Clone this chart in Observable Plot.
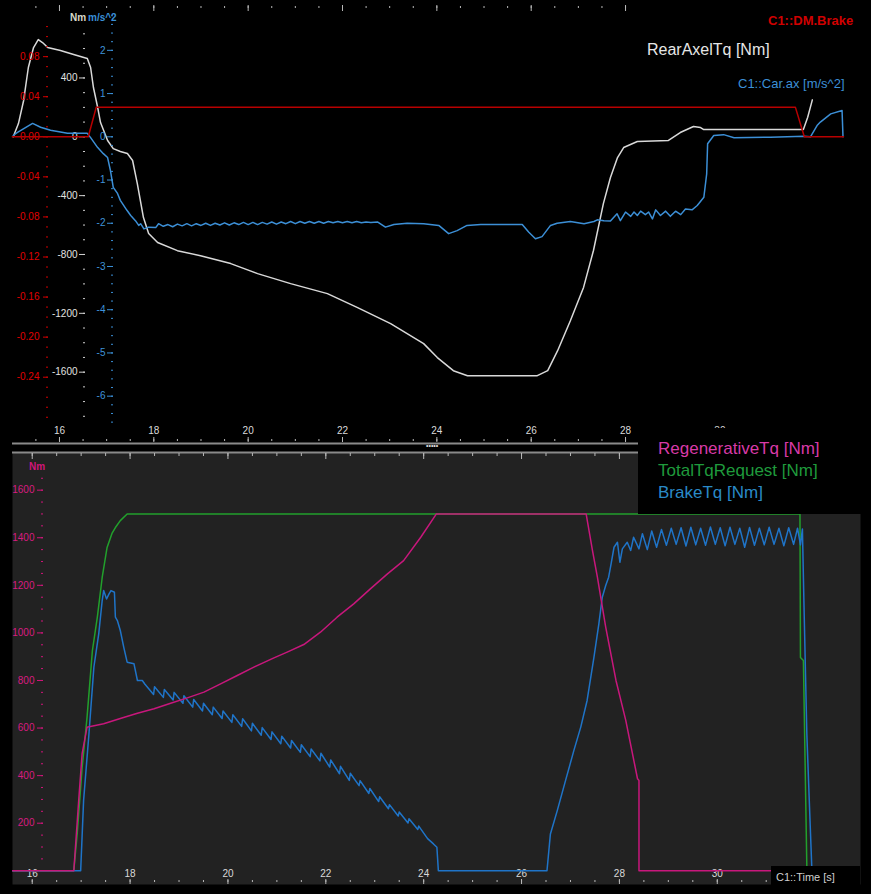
<!DOCTYPE html>
<html><head><meta charset="utf-8">
<script src="https://cdn.jsdelivr.net/npm/d3@7"></script>
<script src="https://cdn.jsdelivr.net/npm/@observablehq/plot@0.6"></script>
<style>
html,body{margin:0;padding:0;background:#000;}
#root{position:relative;width:871px;height:894px;background:#000;overflow:hidden;font-family:"Liberation Sans",Arial,sans-serif;}
#root svg{position:absolute;left:0;}
.lbl{position:absolute;white-space:nowrap;line-height:1;}
.box{position:absolute;background:#000;}
</style></head><body><div id="root"></div>
<script>
// ---------- Top panel series: [time s, value] ----------
const dmBrake = [[15.00,0],[16.61,0],[16.78,0.0296],[31.60,0.0296],[31.79,0],[32.62,0]];

const rearAxelTq = [[15.02,0],[15.13,90],[15.24,247],[15.34,471],[15.45,607],[15.55,661],[15.64,641],[15.75,607],
  [16.02,587],[16.30,559],[16.59,532],[16.66,471],[16.72,335],[16.81,199],[16.87,97],[17.02,-25],[17.14,-80],
  [17.29,-100],[17.44,-114],[17.55,-161],[17.65,-318],[17.78,-549],[17.89,-657],[18.08,-719],[18.50,-774],
  [18.99,-808],[19.63,-862],[20.20,-930],[20.90,-998],[21.68,-1066],[22.32,-1161],[23.02,-1270],[23.72,-1406],
  [24.01,-1501],[24.35,-1590],[24.65,-1624],[26.13,-1624],[26.35,-1590],[26.56,-1454],[26.83,-1250],[27.11,-1024],
  [27.32,-773],[27.53,-454],[27.68,-277],[27.83,-141],[27.96,-73],[28.25,-32],[28.91,-25],[29.16,29],[29.44,70],
  [29.59,63],[29.65,50],[31.77,50],[31.86,131],[31.96,251]];

const carAx = [[15.02,0.03],[15.11,0.10],[15.43,0.31],[15.60,0.22],[15.81,0.15],[16.17,0.08],[16.59,0.08],[16.66,-0.02],
  [16.81,-0.25],[16.93,-0.39],[17.02,-0.48],[17.08,-0.78],[17.14,-1.17],[17.23,-1.31],[17.29,-1.47],[17.43,-1.70],
  [17.51,-1.82],[17.61,-1.94],[17.68,-2.05],[17.72,-2.01],[17.79,-2.13],[17.89,-2.09],[18.04,-2.10],
  [18.10,-2.01],[18.20,-2.07],[18.30,-2.03],[18.40,-2.08],[18.50,-2.02],[18.60,-2.06],[18.70,-2.01],[18.80,-2.06],
  [18.90,-2.01],[19.00,-2.05],[19.10,-2.00],[19.20,-2.05],[19.30,-2.00],[19.40,-2.04],[19.50,-1.99],[19.60,-2.04],
  [19.70,-1.99],[19.80,-2.03],[19.90,-1.98],[20.00,-2.03],[20.10,-1.98],[20.20,-2.03],[20.30,-1.98],[20.40,-2.02],
  [20.50,-1.97],[20.60,-2.02],[20.70,-1.97],[20.80,-2.01],[20.90,-1.96],[21.00,-2.01],[21.10,-1.96],[21.20,-2.00],
  [21.30,-1.96],[21.40,-2.00],[21.50,-1.96],[21.60,-2.00],[21.70,-1.96],[21.80,-1.99],[21.90,-1.96],[22.00,-1.99],
  [22.10,-1.96],[22.20,-1.99],[22.30,-1.96],[22.40,-1.99],[22.50,-1.97],[22.60,-1.98],[22.74,-1.97],
  [22.91,-2.09],[23.09,-2.03],[23.37,-2.00],[23.72,-2.01],[24.04,-2.05],[24.25,-2.24],[24.43,-2.17],[24.64,-2.05],
  [24.93,-2.03],[25.81,-2.03],[25.95,-2.21],[26.09,-2.36],[26.23,-2.31],[26.41,-2.05],[26.55,-2.00],[26.83,-1.96],
  [27.12,-2.01],[27.33,-1.96],[27.40,-1.92],[27.54,-1.94],[27.68,-1.95],[27.82,-1.78],[27.89,-1.94],[28.00,-1.74],
  [28.11,-1.84],[28.18,-1.74],[28.25,-1.82],[28.32,-1.72],[28.42,-1.80],[28.49,-1.74],[28.57,-1.90],[28.64,-1.69],
  [28.74,-1.82],[28.85,-1.72],[28.95,-1.84],[29.06,-1.72],[29.17,-1.80],[29.27,-1.67],[29.41,-1.69],[29.52,-1.59],
  [29.66,-1.40],[29.72,-0.86],[29.74,-0.16],[29.87,0.03],[30.08,0.05],[30.30,-0.02],[31.07,-0.01],[31.78,0.01],
  [31.92,0],[32.06,0.26],[32.13,0.34],[32.35,0.53],[32.59,0.61],[32.61,0]];

// ---------- Bottom panel series: [time s, Nm] ----------
const totalTqRequest = [[15.60,0],[16.85,0],[16.92,157],[17.02,434],[17.12,644],[17.23,926],[17.33,1065],[17.43,1233],
  [17.53,1359],[17.63,1418],[17.70,1443],[17.80,1472],[17.94,1500],[31.69,1500],[31.70,897],[31.76,884],[31.83,22],[31.84,0]];

const regenerativeTq = [[15.60,0],[16.85,0],[16.95,296],[17.02,493],[17.12,603],[17.19,607],[17.46,618],[17.80,640],
  [18.15,662],[18.49,681],[18.83,704],[19.17,727],[19.51,751],[19.85,786],[20.19,821],[20.53,856],[20.94,895],
  [21.21,919],[21.55,951],[21.89,1003],[22.23,1066],[22.57,1122],[22.91,1185],[23.26,1248],[23.59,1304],[23.94,1402],
  [24.26,1500],[27.32,1500],[27.45,1346],[27.55,1234],[27.72,1024],[27.93,800],[28.13,632],[28.37,387],[28.40,380],
  [28.40,0],[31.84,0]];

const brakeTq = [[15.60,0],[16.99,0],[17.05,296],[17.16,577],[17.26,856],[17.36,997],[17.43,1136],[17.46,1178],
  [17.52,1143],[17.57,1164],[17.61,1178],[17.68,1171],[17.70,1066],[17.74,1052],[17.80,1010],[17.87,940],[17.94,877],
  [18.08,870],[18.15,800],[18.25,800],
  [18.30,785],[18.48,741],[18.50,774],[18.68,729],[18.70,762],[18.88,718],[18.90,750],[19.08,704],[19.10,736],
  [19.28,688],[19.30,720],[19.48,672],[19.50,704],[19.68,656],[19.70,688],[19.88,640],[19.90,672],[20.08,624],
  [20.10,656],[20.28,607],[20.30,639],[20.48,588],[20.50,620],[20.68,570],[20.70,602],[20.88,552],[20.90,584],
  [21.08,534],[21.10,566],[21.28,516],[21.30,548],[21.48,498],[21.50,530],[21.68,480],[21.70,512],[21.88,462],
  [21.90,494],[22.08,436],[22.10,466],[22.28,408],[22.30,439],[22.48,380],[22.50,410],[22.68,358],[22.70,379],
  [22.88,325],[22.90,346],[23.08,291],[23.10,311],[23.28,261],[23.30,278],[23.48,230],[23.50,247],[23.68,201],
  [23.70,219],[23.88,174],[23.90,188],[24.08,135],[24.20,113],[24.27,99],[24.30,0],[26.52,0],
  [26.59,155],[26.73,253],[26.90,380],[27.07,506],[27.21,604],[27.34,716],[27.48,898],[27.58,1038],[27.65,1150],
  [27.72,1199],[27.78,1234],[27.83,1290],[27.89,1360],[27.96,1381],[28.01,1297],[28.06,1353],[28.16,1381],
  [28.23,1346],[28.29,1402],[28.40,1353],[28.47,1417],
  [28.57,1350],[28.66,1428],[28.76,1360],[28.86,1435],[28.96,1368],[29.06,1440],[29.16,1372],[29.26,1442],
  [29.36,1365],[29.46,1444],[29.56,1370],[29.66,1440],[29.76,1368],[29.86,1445],[29.96,1372],[30.06,1442],
  [30.16,1366],[30.26,1444],[30.36,1372],[30.46,1440],[30.56,1360],[30.66,1443],[30.76,1368],[30.86,1440],
  [30.96,1370],[31.06,1444],[31.16,1372],[31.26,1440],[31.36,1366],[31.46,1442],[31.56,1372],[31.64,1440],
  [31.70,1370],[31.74,1437],[31.77,1136],[31.83,577],[31.88,296],[31.93,22],[31.94,0]];

// ---------- Tick labels ----------
const timeTicks = [16,18,20,22,24,26,28,30,32];
const timeLabels = [16,18,20,22,24,26,28,30];
const brakeAxisTicks = [0.08,0.04,0,-0.04,-0.08,-0.12,-0.16,-0.20,-0.24];
const nmAxisTicks = [400,0,-400,-800,-1200,-1600];
const axAxisTicks = [2,1,0,-1,-2,-3,-4,-5,-6];
const bottomNmTicks = [200,400,600,800,1000,1200,1400,1600];

// minor tick grids
const topEdgeMinor = d3.range(31, 57).map(i => i / 2);   // 15.5 .. 28
const topEdgeMajor = timeTicks.filter(t => t <= 28);
const topMinor = d3.range(31, 66).map(i => i / 2);
const botMinor = d3.range(32, 66).map(i => i / 2);
const brakeMinor = d3.range(-28, 12).map(i => i / 100);
const nmMinor = d3.range(-19, 8).map(i => i * 100);
const axMinor = d3.range(-33, 15).map(i => i / 5);
const bottomNmMinor = d3.range(1, 34).map(i => i * 50);

const FONT = '"Liberation Sans", Arial, sans-serif';
const W = 871;
const style = {background: "transparent", fontFamily: FONT, fontSize: "10px", color: "#ccc"};
const TOP_X = [15.004, 32.981];
const topBase = {width: W, height: 445, marginLeft: 12, marginRight: 11, marginTop: 3, marginBottom: 2, style};
const X = d => d[0], Y = d => d[1];
const tickGray = "#b8b8b8", labelGray = "#dadada";

const root = document.getElementById("root");
function place(svg, top) { svg.style.top = top + "px"; root.appendChild(svg); }

// Layer 1: RearAxelTq (Nm) + time axes
const NM_DOMAIN = [-2085.0, 906.2];
place(Plot.plot({...topBase, x: {domain: TOP_X}, y: {domain: NM_DOMAIN}, marks: [
  Plot.ruleY([NM_DOMAIN[0]], {stroke: "#8a8a8a", strokeWidth: 2}),
  Plot.axisX(topEdgeMinor, {anchor: "top", tickSize: 2, dy: 4, fill: "none", stroke: tickGray, label: null}),
  Plot.axisX(topEdgeMajor, {anchor: "top", tickSize: 6, dy: 7, fill: "none", stroke: tickGray, label: null}),
  Plot.axisX(topMinor, {anchor: "bottom", tickSize: 2, dy: -4, fill: "none", stroke: tickGray, label: null}),
  Plot.axisX(timeTicks, {anchor: "bottom", tickSize: 5, dy: -6, fill: "none", stroke: tickGray, label: null}),
  Plot.axisX(timeLabels, {anchor: "bottom", tickSize: 0, tickPadding: 0, lineAnchor: "middle", dy: -13,
    fill: labelGray, tickFormat: d => String(d), label: null}),
  Plot.axisY(nmMinor, {anchor: "left", tickSize: 2, dx: 73, fill: "none", stroke: "#d0d0d0", label: null}),
  Plot.axisY(nmAxisTicks, {anchor: "left", tickSize: 6, dx: 73, tickPadding: 2, stroke: "#d0d0d0", fill: "#e2e2e2",
    tickFormat: d => String(d), label: null}),
  Plot.line(rearAxelTq, {x: X, y: Y, stroke: "#d9d9d9", strokeWidth: 1.5})
]}), 0);

// Layer 2: Car.ax (m/s^2)
place(Plot.plot({...topBase, x: {domain: TOP_X, axis: null}, y: {domain: [-7.0946, 3.0835]}, marks: [
  Plot.axisY(axMinor, {anchor: "left", tickSize: 2, dx: 101, fill: "none", stroke: "#3a8fd6", label: null}),
  Plot.axisY(axAxisTicks, {anchor: "left", tickSize: 6, dx: 101, tickPadding: 2, stroke: "#3a8fd6", fill: "#3f93da",
    tickFormat: d => String(d), label: null}),
  Plot.line(carAx, {x: X, y: Y, stroke: "#3c8fd6", strokeWidth: 1.5})
]}), 0);

// Layer 3: DM.Brake
place(Plot.plot({...topBase, x: {domain: TOP_X, axis: null}, y: {domain: [-0.30618, 0.13307]}, marks: [
  Plot.axisY(brakeMinor, {anchor: "left", tickSize: 2, dx: 36, fill: "none", stroke: "#d00000", label: null}),
  Plot.axisY(brakeAxisTicks, {anchor: "left", tickSize: 5, dx: 36, tickPadding: 4, stroke: "#d00000", fill: "#e00000",
    tickFormat: d => d.toFixed(2), label: null}),
  Plot.line(dmBrake, {x: X, y: Y, stroke: "#b80000", strokeWidth: 1.5})
]}), 0);

// Bottom panel
const BOT_DOMAIN = [-57.6, 1758.3];
place(Plot.plot({width: W, height: 449, marginLeft: 12, marginRight: 11, marginTop: 7, marginBottom: 10, style,
  x: {domain: [15.597, 32.927]}, y: {domain: BOT_DOMAIN}, marks: [
  Plot.frame({fill: "#222222", stroke: "none"}),
  Plot.ruleY([BOT_DOMAIN[1]], {stroke: "#8a8a8a", strokeWidth: 2}),
  Plot.axisX(botMinor, {anchor: "top", tickSize: 3, dy: 3, fill: "none", stroke: tickGray, label: null}),
  Plot.axisX(timeTicks, {anchor: "top", tickSize: 6, dy: 6, fill: "none", stroke: tickGray, label: null}),
  Plot.axisX(botMinor, {anchor: "bottom", tickSize: 2, dy: -4, fill: "none", stroke: tickGray, label: null}),
  Plot.axisX(timeTicks, {anchor: "bottom", tickSize: 5, dy: -5, fill: "none", stroke: tickGray, label: null}),
  Plot.axisX(timeLabels, {anchor: "bottom", tickSize: 0, tickPadding: 0, lineAnchor: "middle", dy: -11,
    fill: labelGray, tickFormat: d => String(d), label: null}),
  Plot.axisY(bottomNmMinor, {anchor: "left", tickSize: 2, dx: 31, fill: "none", stroke: "#d0157a", label: null}),
  Plot.axisY(bottomNmTicks, {anchor: "left", tickSize: 6, dx: 31, tickPadding: 3, stroke: "#d0157a", fill: "#d81b80",
    tickFormat: d => String(d), label: null}),
  Plot.line(totalTqRequest, {x: X, y: Y, stroke: "#22a02c", strokeWidth: 1.5}),
  Plot.line(brakeTq, {x: X, y: Y, stroke: "#1f74c8", strokeWidth: 1.5}),
  Plot.line(regenerativeTq, {x: X, y: Y, stroke: "#c8177c", strokeWidth: 1.5})
]}), 445);

// Overlay boxes and texts
function box(l, t, w, h) { const d = document.createElement("div"); d.className = "box";
  Object.assign(d.style, {left: l + "px", top: t + "px", width: w + "px", height: h + "px"}); root.appendChild(d); }
function label(text, l, t, size, color, weight) { const d = document.createElement("div"); d.className = "lbl";
  d.textContent = text; Object.assign(d.style, {left: l + "px", top: t + "px", fontSize: size + "px", color,
  fontWeight: weight || "normal"}); root.appendChild(d); }

box(638, 428, 233, 86);
box(771, 866, 89, 28);

label("Nm", 70, 12.5, 10, "#d8d8c8", "bold");
label("m/s^2", 88, 12.5, 10, "#3a8fd6", "bold");
label("C1::DM.Brake", 768, 14, 13, "#d00000", "bold");
label("RearAxelTq [Nm]", 647, 42, 16, "#e6e6e6");
label("C1::Car.ax [m/s^2]", 738, 77, 13, "#3c8fd6");
label("Nm", 29, 461.5, 10, "#d0157a", "bold");
label("RegenerativeTq [Nm]", 658, 439.5, 17, "#d93aa8");
label("TotalTqRequest [Nm]", 658, 462, 17, "#1f9a3c");
label("BrakeTq [Nm]", 658, 483.5, 17, "#2a8ac8");
label("C1::Time [s]", 776, 872, 11, "#cfcfcf");
label("•••••", 426, 442, 7, "#e0e0e0");
</script></body></html>
